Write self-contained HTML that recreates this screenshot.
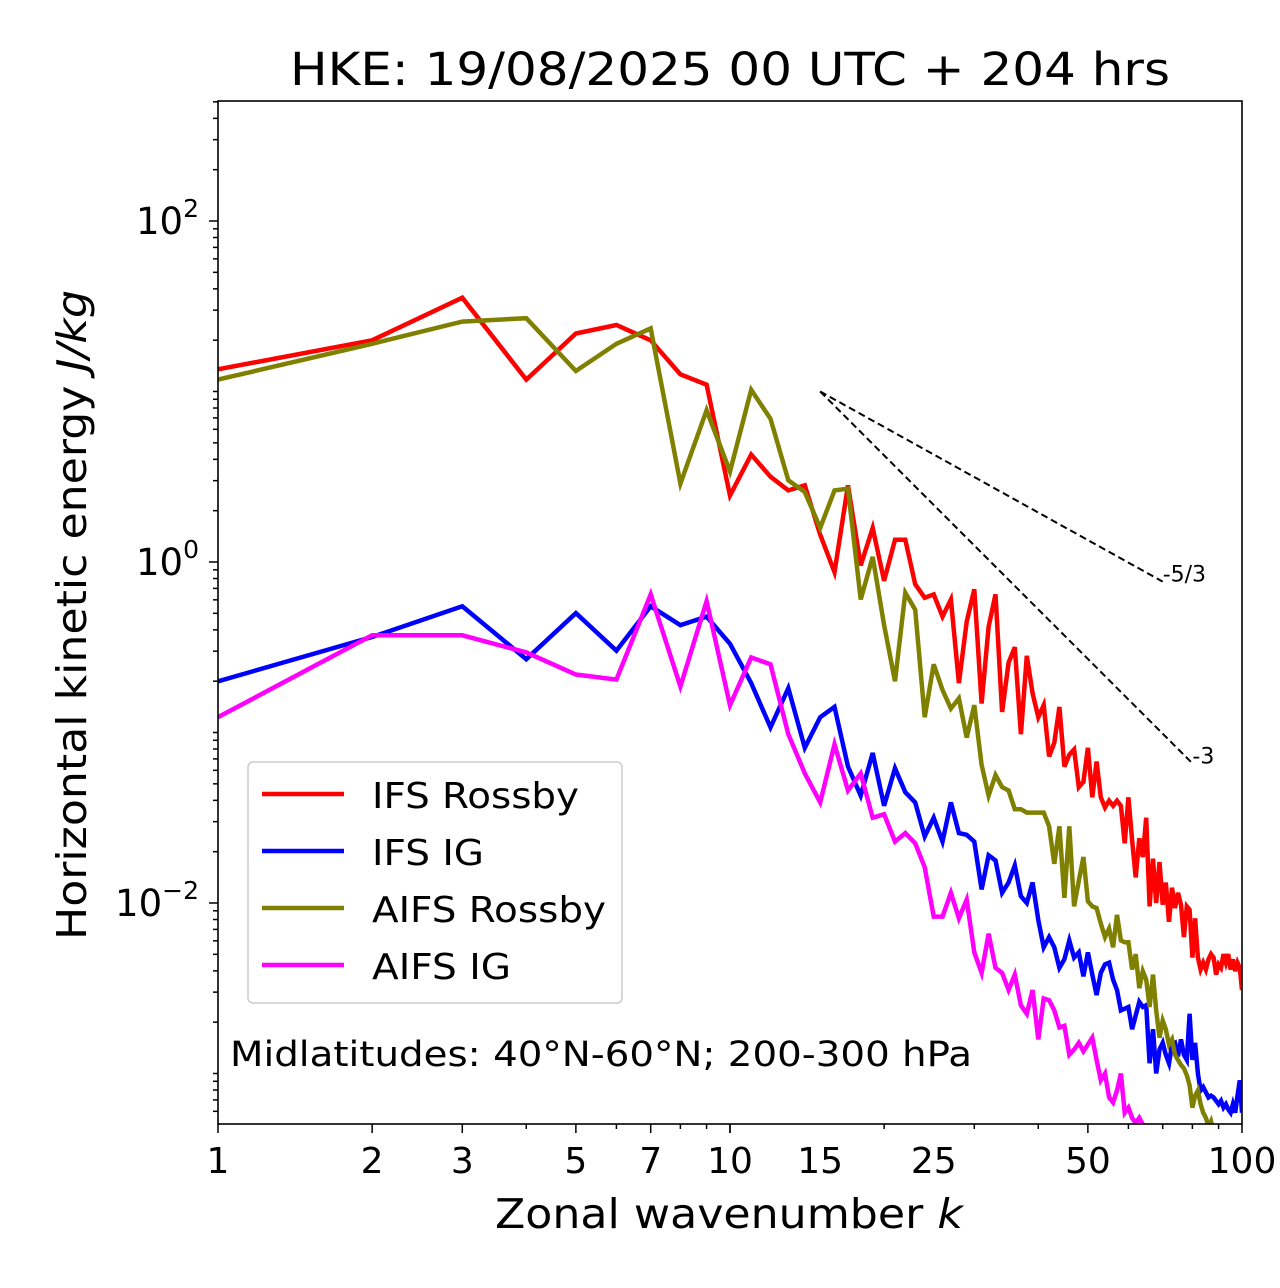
<!DOCTYPE html>
<html><head><meta charset="utf-8"><style>
html,body{margin:0;padding:0;background:#fff;}
svg{display:block;font-family:"DejaVu Sans","Liberation Sans",sans-serif;}
</style></head><body>
<svg id="chart" width="1280" height="1288" viewBox="0 0 1280 1288" xmlns="http://www.w3.org/2000/svg">
<defs><clipPath id="plotclip"><rect x="218" y="101" width="1024" height="1023"/></clipPath></defs>
<rect width="1280" height="1288" fill="#fff"/>
<text x="290" y="85" font-size="45" textLength="880" lengthAdjust="spacingAndGlyphs">HKE: 19/08/2025 00 UTC + 204 hrs</text>
<g id="series" clip-path="url(#plotclip)"></g>
<g id="axes"></g>
<rect x="218" y="101" width="1024" height="1023" fill="none" stroke="#000" stroke-width="1.6"/>
<text x="495" y="1228" font-size="41" textLength="468" lengthAdjust="spacingAndGlyphs">Zonal wavenumber <tspan font-style="italic">k</tspan></text>
<text transform="translate(86,940) rotate(-90)" font-size="41" textLength="650" lengthAdjust="spacingAndGlyphs">Horizontal kinetic energy <tspan font-style="italic">J/kg</tspan></text>
<g>
<rect x="248" y="762" width="374" height="241" rx="5" fill="#fff" fill-opacity="0.8" stroke="#ccc" stroke-width="1.5"/>
<line x1="262" y1="794" x2="344" y2="794" stroke="#ff0000" stroke-width="4.5"/>
<text x="372" y="808" font-size="36" textLength="207" lengthAdjust="spacingAndGlyphs">IFS Rossby</text>
<line x1="262" y1="851" x2="344" y2="851" stroke="#0000ff" stroke-width="4.5"/>
<text x="372" y="865" font-size="36" textLength="112" lengthAdjust="spacingAndGlyphs">IFS IG</text>
<line x1="262" y1="908" x2="344" y2="908" stroke="#808000" stroke-width="4.5"/>
<text x="372" y="922" font-size="36" textLength="234" lengthAdjust="spacingAndGlyphs">AIFS Rossby</text>
<line x1="262" y1="965" x2="344" y2="965" stroke="#ff00ff" stroke-width="4.5"/>
<text x="372" y="979" font-size="36" textLength="139" lengthAdjust="spacingAndGlyphs">AIFS IG</text>
</g>
<text x="230" y="1066" font-size="35" textLength="742" lengthAdjust="spacingAndGlyphs">Midlatitudes: 40°N-60°N; 200-300 hPa</text>
</svg>
<script>
// log10 of energy (J/kg) for wavenumbers k = 1..100
const ifsRossbyLog = [1.13,1.30,1.55,1.07,1.34,1.39,1.30,1.10,1.04,0.39,0.63,0.50,0.42,0.45,0.16,-0.06,0.45,-0.02,0.20,-0.11,0.13,0.13,-0.13,-0.21,-0.19,-0.32,-0.22,-0.71,-0.35,-0.16,-0.83,-0.38,-0.19,-0.88,-0.59,-0.50,-1.01,-0.55,-0.77,-0.91,-0.84,-1.14,-1.06,-0.85,-1.20,-1.13,-1.10,-1.32,-1.29,-1.09,-1.38,-1.17,-1.38,-1.44,-1.40,-1.43,-1.40,-1.43,-1.65,-1.38,-1.63,-1.85,-1.62,-1.73,-1.50,-2.02,-1.74,-2.00,-1.76,-2.01,-1.88,-2.11,-1.91,-2.03,-1.94,-2.01,-2.20,-2.02,-2.04,-2.32,-2.09,-2.32,-2.39,-2.35,-2.39,-2.33,-2.30,-2.32,-2.42,-2.36,-2.38,-2.30,-2.35,-2.30,-2.39,-2.33,-2.40,-2.35,-2.38,-2.51];
const ifsIgLog = [-0.70,-0.44,-0.26,-0.57,-0.30,-0.52,-0.26,-0.37,-0.32,-0.48,-0.71,-0.97,-0.74,-1.09,-0.91,-0.85,-1.20,-1.37,-1.12,-1.43,-1.21,-1.35,-1.41,-1.61,-1.50,-1.64,-1.41,-1.59,-1.60,-1.64,-1.92,-1.72,-1.75,-1.94,-1.88,-1.78,-1.96,-2.00,-1.88,-2.10,-2.26,-2.20,-2.26,-2.38,-2.33,-2.22,-2.32,-2.29,-2.43,-2.29,-2.42,-2.54,-2.41,-2.36,-2.35,-2.45,-2.51,-2.63,-2.62,-2.61,-2.74,-2.66,-2.58,-2.61,-2.60,-2.94,-2.74,-3.00,-2.86,-2.82,-2.89,-2.94,-2.83,-2.82,-2.90,-2.80,-2.89,-2.92,-2.65,-2.92,-2.82,-3.00,-3.10,-3.08,-3.11,-3.14,-3.13,-3.14,-3.16,-3.18,-3.16,-3.20,-3.18,-3.21,-3.23,-3.18,-3.23,-3.13,-3.04,-3.23];
const aifsRossbyLog = [1.07,1.28,1.41,1.43,1.12,1.28,1.37,0.46,0.89,0.53,1.01,0.84,0.48,0.41,0.20,0.42,0.43,-0.22,0.03,-0.37,-0.70,-0.18,-0.28,-0.91,-0.60,-0.75,-0.86,-0.80,-1.03,-0.84,-1.19,-1.37,-1.25,-1.32,-1.34,-1.45,-1.45,-1.47,-1.47,-1.47,-1.47,-1.55,-1.77,-1.55,-1.97,-1.55,-2.02,-1.87,-1.73,-1.99,-2.02,-2.03,-2.12,-2.20,-2.15,-2.26,-2.07,-2.22,-2.23,-2.23,-2.39,-2.30,-2.50,-2.40,-2.45,-2.61,-2.42,-2.63,-2.79,-2.69,-2.74,-2.83,-2.80,-2.89,-2.92,-2.95,-2.97,-3.01,-3.07,-3.20,-3.13,-3.10,-3.18,-3.23,-3.26,-3.31,-3.28,-3.34,-3.36,-3.40,-3.38,-3.42,-3.45,-3.43,-3.47,-3.50,-3.48,-3.52,-3.55,-3.53];
const aifsIgLog = [-0.91,-0.43,-0.43,-0.53,-0.66,-0.69,-0.19,-0.73,-0.23,-0.84,-0.56,-0.60,-1.01,-1.24,-1.41,-1.07,-1.34,-1.24,-1.50,-1.48,-1.64,-1.59,-1.65,-1.79,-2.08,-2.08,-1.94,-2.09,-1.98,-2.29,-2.41,-2.18,-2.38,-2.41,-2.51,-2.42,-2.60,-2.65,-2.51,-2.80,-2.56,-2.57,-2.63,-2.73,-2.72,-2.89,-2.86,-2.82,-2.87,-2.83,-2.79,-2.92,-3.04,-3.00,-3.14,-3.17,-3.10,-3.00,-3.23,-3.20,-3.26,-3.29,-3.26,-3.30,-3.32,-3.36,-3.40,-3.38,-3.44,-3.42,-3.48,-3.50,-3.47,-3.53,-3.55,-3.52,-3.58,-3.60,-3.57,-3.62,-3.65,-3.63,-3.67,-3.70,-3.68,-3.72,-3.75,-3.73,-3.77,-3.80,-3.78,-3.82,-3.85,-3.83,-3.87,-3.90,-3.88,-3.92,-3.95,-3.93];
const xTickValues = [1,2,3,5,7,10,15,25,50,100];
const xTickLabels = ["1","2","3","5","7","10","15","25","50","100"];
const yMajorExponents = [2,0,-2];
const refSlopes = [-5/3,-3];
const refSlopeLabels = ["-5/3","-3"];
const refStartK = 15, refStartE = 10;
const refEndK = [70,80];

const NS = "http://www.w3.org/2000/svg";
const X0 = 218, X1 = 1242, Y0 = 101, Y1 = 1124;
const xMinLog = 0, xMaxLog = 2;
const yMinLog = -3.2962, yMaxLog = 2.7038;
function xPos(k){ return X0 + (Math.log10(k) - xMinLog) / (xMaxLog - xMinLog) * (X1 - X0); }
function yPosLog(l){ return Y1 - (l - yMinLog) / (yMaxLog - yMinLog) * (Y1 - Y0); }
function yPos(e){ return yPosLog(Math.log10(e)); }
function mk(tag, attrs, parent){
  const el = document.createElementNS(NS, tag);
  for (const a in attrs) el.setAttribute(a, attrs[a]);
  parent.appendChild(el);
  return el;
}
const axes = document.getElementById('axes');
const series = document.getElementById('series');

for (let d = 0; d < 2; d++) {
  for (let m = 1; m <= 10; m++) {
    const v = m * Math.pow(10, d);
    if (v > 100) continue;
    const major = xTickValues.indexOf(v) >= 0;
    const t = mk('line', {x1: xPos(v), x2: xPos(v), y1: Y1, y2: Y1 + (major ? 9 : 5), stroke: '#000', 'stroke-width': 1.5}, axes);
    
    
  }
}
xTickValues.forEach((v, i) => {
  const t = mk('text', {x: xPos(v), y: 1173, 'font-size': 36, 'text-anchor': 'middle'}, axes);
  t.textContent = xTickLabels[i];
  
  
});
for (let d = -4; d <= 2; d++) {
  for (let m = 1; m <= 9; m++) {
    const l = Math.log10(m) + d;
    if (l < yMinLog || l > yMaxLog) continue;
    const major = (m === 1 && yMajorExponents.indexOf(d) >= 0);
    const y = yPosLog(l);
    const t = mk('line', {x1: X0 - (major ? 9 : 5), x2: X0, y1: y, y2: y, stroke: '#000', 'stroke-width': 1.5}, axes);
    
    
  }
}
yMajorExponents.forEach(e => {
  const y = yPosLog(e);
  const t = mk('text', {x: 199, y: y + 13, 'font-size': 37, 'text-anchor': 'end'}, axes);
  const b = mk('tspan', {}, t); b.textContent = '10';
  const s = mk('tspan', {dy: -17, 'font-size': 25}, t); s.textContent = e < 0 ? '\u2212' + Math.abs(e) : String(e);
  
  
});

function drawSeries(arr, color, name){
  const pts = arr.map((l, i) => xPos(i + 1).toFixed(1) + ',' + yPosLog(l).toFixed(1)).join(' ');
  const p = mk('polyline', {points: pts, fill: 'none', stroke: color, 'stroke-width': 4.5, 'stroke-linejoin': 'miter', 'stroke-miterlimit': 4}, series);
  
  
}
drawSeries(ifsRossbyLog, '#ff0000', 'series-ifs-rossby');
drawSeries(ifsIgLog, '#0000ff', 'series-ifs-ig');
drawSeries(aifsRossbyLog, '#808000', 'series-aifs-rossby');
drawSeries(aifsIgLog, '#ff00ff', 'series-aifs-ig');

refSlopes.forEach((s, i) => {
  const k2 = refEndK[i];
  const e2 = refStartE * Math.pow(k2 / refStartK, s);
  const ln = mk('line', {x1: xPos(refStartK), y1: yPos(refStartE), x2: xPos(k2), y2: yPos(e2), stroke: '#000', 'stroke-width': 2, 'stroke-dasharray': '7,4'}, axes);
  
  
  const t = mk('text', {x: xPos(k2), y: yPos(e2), 'font-size': 22}, axes);
  t.textContent = refSlopeLabels[i];
  
  
});
</script>
</body></html>
